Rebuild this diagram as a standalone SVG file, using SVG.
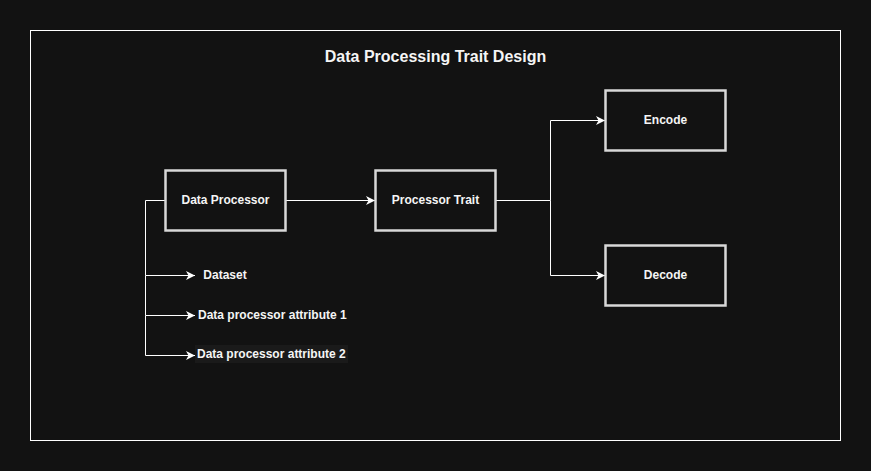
<svg xmlns="http://www.w3.org/2000/svg" width="871" height="471" viewBox="0 0 871 471">
<defs>
<marker id="arr" markerWidth="12" markerHeight="12" refX="9" refY="6" orient="auto" markerUnits="userSpaceOnUse">
<path d="M0,1.5 L9,6 L0,10.5 L2.5,6 Z" fill="#ffffff"/>
</marker>
<style>
.box{fill:#121212;stroke:#d8d8d8;stroke-width:2.5}
.t{font-family:"Liberation Sans",Arial,sans-serif;font-weight:bold;font-size:12px;fill:#f5f5f5;text-anchor:middle;dominant-baseline:central}
.tl{font-family:"Liberation Sans",Arial,sans-serif;font-weight:bold;font-size:12px;fill:#f5f5f5;dominant-baseline:central}
.c{fill:none;stroke:#ffffff;stroke-width:1}
</style>
</defs>
<rect width="871" height="471" fill="#121212"/>
<rect x="30.5" y="30.5" width="810" height="410" fill="none" stroke="#ffffff" stroke-width="1"/>
<text x="435.5" y="56" class="t" style="font-size:16px">Data Processing Trait Design</text>
<g id="connectors">
<path class="c" d="M286,200.5 H375" marker-end="url(#arr)"/>
<path class="c" d="M496,200.5 H550.5 V120.5 H605" marker-end="url(#arr)"/>
<path class="c" d="M550.5,200.5 V275.5 H605" marker-end="url(#arr)"/>
<path class="c" d="M165,200.5 H145.5 V275.5 H195" marker-end="url(#arr)"/>
<path class="c" d="M145.5,275.5 V315.5 H195" marker-end="url(#arr)"/>
<path class="c" d="M145.5,315.5 V355.5 H195" marker-end="url(#arr)"/>
</g>
<g id="data-processor">
<rect class="box" x="165.5" y="170.5" width="120" height="60"/>
<text class="t" x="225.5" y="200">Data Processor</text>
</g>
<g id="processor-trait">
<rect class="box" x="375.5" y="170.5" width="120" height="60"/>
<text class="t" x="435.5" y="200">Processor Trait</text>
</g>
<g id="encode">
<rect class="box" x="605.5" y="90.5" width="120" height="60"/>
<text class="t" x="665.5" y="120">Encode</text>
</g>
<g id="decode">
<rect class="box" x="605.5" y="245.5" width="120" height="60"/>
<text class="t" x="665.5" y="275">Decode</text>
</g>
<g id="dataset">
<text class="t" x="225" y="275">Dataset</text>
</g>
<g id="attr1">
<text class="tl" x="198" y="315">Data processor attribute 1</text>
</g>
<g id="attr2">
<rect x="195" y="345" width="153" height="18" fill="#1a1a1a"/>
<text class="tl" x="197" y="354">Data processor attribute 2</text>
</g>
</svg>
